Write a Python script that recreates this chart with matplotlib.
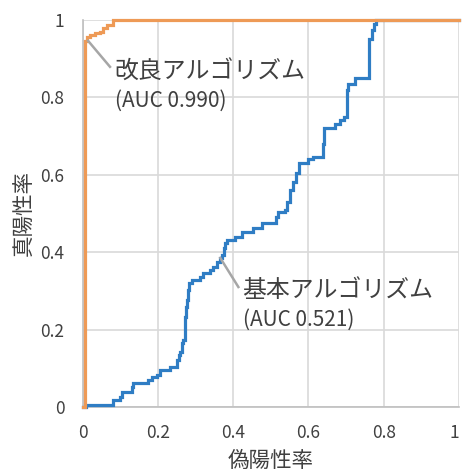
import matplotlib
matplotlib.use("Agg")
import matplotlib.pyplot as plt

plt.rcParams['font.family'] = ['Noto Sans CJK JP', 'DejaVu Sans']

# ROC step points: at each false positive rate the curve rises to the given true positive rate
basic_fpr = [0, 0.01, 0.082, 0.1, 0.104, 0.131, 0.135, 0.175, 0.184, 0.197, 0.206, 0.233, 0.25, 0.255,
             0.259, 0.264, 0.268, 0.272, 0.275, 0.278, 0.28, 0.284, 0.291, 0.312, 0.32, 0.339, 0.347,
             0.357, 0.366, 0.37, 0.375, 0.379, 0.383, 0.405, 0.423, 0.453, 0.477, 0.515, 0.52, 0.538,
             0.543, 0.55, 0.558, 0.568, 0.575, 0.60, 0.612, 0.64, 0.642, 0.67, 0.685, 0.695, 0.702,
             0.706, 0.725, 0.762, 0.768, 0.775, 0.78, 1.0]
basic_tpr = [0, 0.006, 0.018, 0.026, 0.039, 0.052, 0.062, 0.07, 0.078, 0.083, 0.096, 0.104, 0.121, 0.134,
             0.142, 0.165, 0.173, 0.233, 0.258, 0.276, 0.302, 0.32, 0.328, 0.336, 0.346, 0.354, 0.362,
             0.375, 0.385, 0.392, 0.41, 0.423, 0.431, 0.44, 0.452, 0.462, 0.475, 0.49, 0.504, 0.51,
             0.53, 0.56, 0.582, 0.604, 0.63, 0.64, 0.646, 0.68, 0.72, 0.731, 0.742, 0.75, 0.82,
             0.835, 0.85, 0.95, 0.975, 0.99, 1.0, 1.0]

improved_fpr = [0, 0.006, 0.012, 0.02, 0.033, 0.047, 0.055, 0.065, 0.08, 1.0]
improved_tpr = [0, 0.945, 0.956, 0.961, 0.966, 0.97, 0.979, 0.987, 1.0, 1.0]

ticks = [0, 0.2, 0.4, 0.6, 0.8, 1]
tick_labels = ["0", "0.2", "0.4", "0.6", "0.8", "1"]

basic_name = "基本アルゴリズム"
basic_auc = "(AUC 0.521)"
improved_name = "改良アルゴリズム"
improved_auc = "(AUC 0.990)"

fig = plt.figure(figsize=(4.62, 4.74), dpi=100)
ax = fig.add_axes([0.1786, 0.1414, 0.8149, 0.8164])

blue = "#2f7dc4"
orange = "#ee9a56"
grid = "#d9d9d9"
textc = "#404040"

ax.step(basic_fpr, basic_tpr, where='post', color=blue, lw=2.3, clip_on=False, zorder=3,
        solid_joinstyle='miter')
ax.step(improved_fpr, improved_tpr, where='post', color=orange, lw=2.3, clip_on=False, zorder=4,
        solid_joinstyle='miter')

ax.set_xlim(0, 1)
ax.set_ylim(0, 1)
ax.set_xticks(ticks)
ax.set_xticklabels(tick_labels)
ax.set_yticks(ticks)
ax.set_yticklabels(tick_labels)
ax.get_xticklabels()[-1].set_horizontalalignment('right')
ax.grid(True, color=grid, lw=1.2)
ax.set_axisbelow(True)
for s in ["top", "right"]:
    ax.spines[s].set_visible(False)
for s in ["left", "bottom"]:
    ax.spines[s].set_color("#bfbfbf")
    ax.spines[s].set_linewidth(1.2)
ax.tick_params(axis='y', length=0, labelsize=12.5, colors=textc, pad=13)
ax.tick_params(axis='x', length=0, labelsize=12.5, colors=textc, pad=12)

ax.set_xlabel("偽陽性率", fontsize=15.5, color=textc, labelpad=6)
ax.set_ylabel("真陽性率", fontsize=15.5, color=textc, labelpad=4)

# annotations
ann = "#a6a6a6"
ax.plot([0.015, 0.073], [0.946, 0.879], color=ann, lw=1.8, zorder=5)
ax.text(0.085, 0.866, improved_name, fontsize=17.2, color=textc, va="center", ha="left")
ax.text(0.085, 0.792, improved_auc, fontsize=15, color=textc, va="center", ha="left")

ax.plot([0.366, 0.414], [0.385, 0.31], color=ann, lw=1.8, zorder=5)
ax.text(0.425, 0.3, basic_name, fontsize=17.2, color=textc, va="center", ha="left")
ax.text(0.425, 0.225, basic_auc, fontsize=15, color=textc, va="center", ha="left")

fig.savefig("out.png", dpi=100)
